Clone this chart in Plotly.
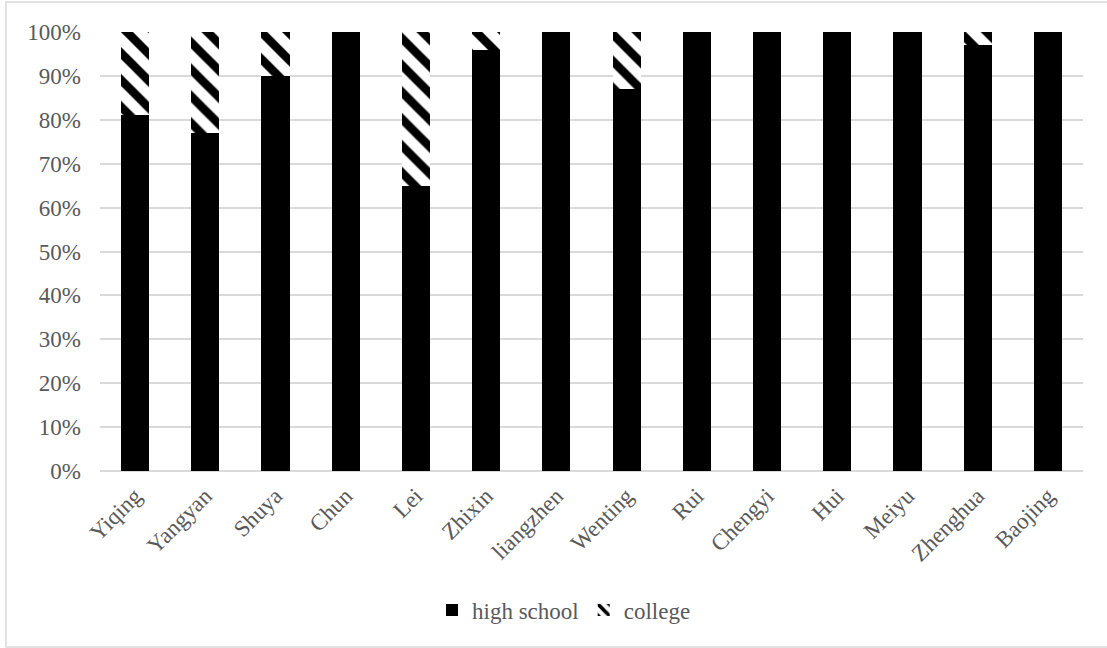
import plotly.graph_objects as go

# Share of each student's schooling by level (percent)
students = ["Yiqing", "Yangyan", "Shuya", "Chun", "Lei", "Zhixin", "liangzhen",
            "Wenting", "Rui", "Chengyi", "Hui", "Meiyu", "Zhenghua", "Baojing"]
high_school = [81, 77, 90, 100, 65, 96, 100, 87, 100, 100, 100, 100, 97, 100]
college = [19, 23, 10, 0, 35, 4, 0, 13, 0, 0, 0, 0, 3, 0]

W, H = 1107, 648
L, R, T, B = 100, 24, 32, 177
pw, ph = W - L - R, H - T - B

def px_x(p):
    return (p - L) / pw

def px_y(p):
    return (H - B - p) / ph

font = dict(family="Liberation Serif", size=23, color="#595959")

fig = go.Figure()
fig.add_trace(go.Bar(
    x=students, y=[v / 100 for v in high_school], name="high school",
    marker=dict(color="black", line=dict(width=0)),
))
fig.add_trace(go.Bar(
    x=students, y=[v / 100 for v in college], name="college",
    marker=dict(color="white", line=dict(width=0),
                pattern=dict(shape="\\", fgcolor="#000000", bgcolor="#ffffff",
                             fgopacity=1, size=19, solidity=0.45)),
))

fig.update_layout(
    width=W, height=H,
    margin=dict(l=L, r=R, t=T, b=B),
    barmode="stack", bargap=0.6,
    paper_bgcolor="white", plot_bgcolor="white",
    font=font,
    showlegend=True,
    legend=dict(orientation="h", x=px_x(564), xanchor="center",
                y=px_y(610), yanchor="middle", font=font,
                itemwidth=30, traceorder="normal"),
    xaxis=dict(tickangle=-45, showgrid=False, showline=False, zeroline=False,
               ticks="", tickfont=font, ticklabelstandoff=6),
    yaxis=dict(range=[0, 1], dtick=0.1, tickformat=".0%", showgrid=True,
               gridcolor="#d9d9d9", gridwidth=1.5, zeroline=True,
               zerolinecolor="#d9d9d9", zerolinewidth=1.5, showline=False,
               ticks="", tickfont=font, ticklabelstandoff=18),
    shapes=[dict(type="rect", xref="paper", yref="paper",
                 x0=px_x(6), x1=px_x(1112), y0=px_y(647), y1=px_y(2),
                 line=dict(color="#d9d9d9", width=1.5), layer="below")],
)

fig.write_html("out.html")
